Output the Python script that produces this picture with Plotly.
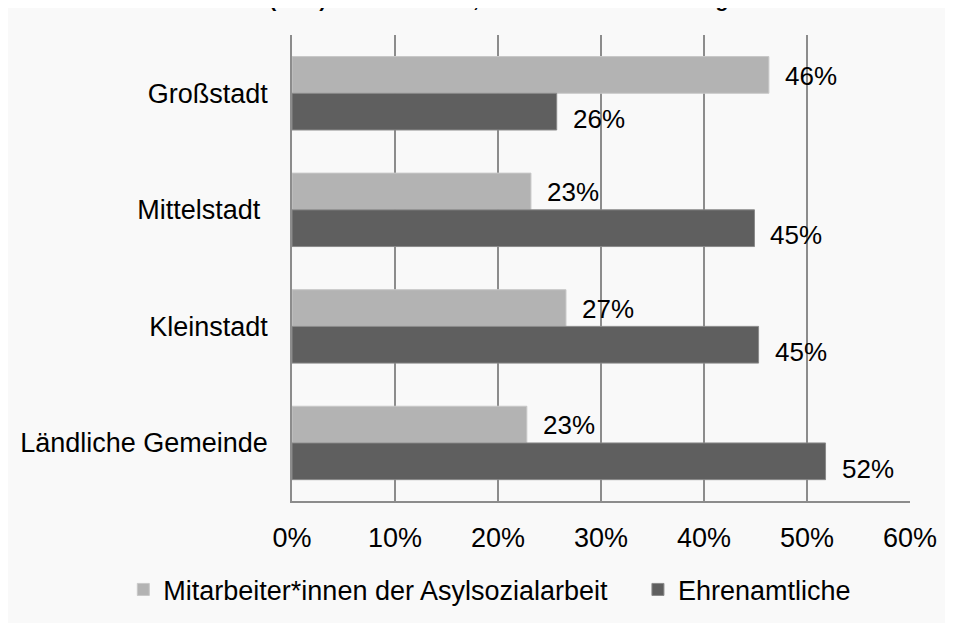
import plotly.graph_objects as go

# data
categories = ["Großstadt", "Mittelstadt\u00a0", "Kleinstadt", "Ländliche Gemeinde"]
mitarbeiter = [0.463, 0.232, 0.266, 0.228]
ehrenamtliche = [0.257, 0.449, 0.453, 0.518]
series_names = ["Mitarbeiter*innen der Asylsozialarbeit", "Ehrenamtliche"]
title_text = "Anteil (in %) nach Wohnort, Mehrfachantworten möglich"

LIGHT = "#b3b3b3"
DARK = "#5f5f5f"
BG = "#f9f9f9"
FONT = "Liberation Sans, Arial, sans-serif"

fig = go.Figure()
fig.add_trace(go.Bar(y=categories, x=mitarbeiter, orientation="h", name=series_names[0],
                     marker=dict(color=LIGHT, line=dict(color="#c8c8c8", width=1)),
                     legend="legend"))
fig.add_trace(go.Bar(y=categories, x=ehrenamtliche, orientation="h", name=series_names[1],
                     marker=dict(color=DARK, line=dict(color="#8a8a8a", width=1)),
                     legend="legend2"))

# value labels to the right of each bar
for vals, off in [(mitarbeiter, -0.185), (ehrenamtliche, 0.185)]:
    for i, v in enumerate(vals):
        fig.add_annotation(x=v, y=i + off, yref="y", xref="x", text=f"{round(v * 100)}%",
                           showarrow=False, xanchor="left", xshift=14, yshift=-4,
                           font=dict(size=26, color="#000000", family=FONT))

# title (mostly cut off at the top edge, only descenders show)
fig.add_annotation(x=0.312, xref="paper", y=1, yref="paper", text=f"<b>{title_text}</b>",
                   showarrow=False, xanchor="center", yanchor="middle", yshift=36,
                   font=dict(size=21, color="#000000", family=FONT))

leg = dict(orientation="h", xanchor="left", xref="container", yref="container",
           y=0.066, yanchor="middle", font=dict(size=27), itemwidth=30,
           bgcolor="rgba(0,0,0,0)")

fig.update_layout(
    width=953, height=623,
    barmode="group", bargap=0.37, bargroupgap=0,
    paper_bgcolor=BG, plot_bgcolor=BG,
    margin=dict(l=283, r=51, t=27, b=128),
    font=dict(family=FONT, size=27, color="#000000"),
    showlegend=True,
    legend=dict(leg, x=0.121),
    legend2=dict(leg, x=0.661),
)
fig.update_xaxes(range=[0, 0.6], dtick=0.1, tickformat=".0%", showgrid=True,
                 gridcolor="#8c8c8c", gridwidth=1.5, zeroline=False,
                 showline=True, linecolor="#8c8c8c", linewidth=1.5,
                 ticks="", ticklabelstandoff=12, tickfont=dict(size=27))
fig.update_yaxes(autorange="reversed", showgrid=False, zeroline=False,
                 showline=True, linecolor="#8c8c8c", linewidth=1.5,
                 ticks="", ticklabelstandoff=17, tickfont=dict(size=27))

fig.write_html("out.html")
